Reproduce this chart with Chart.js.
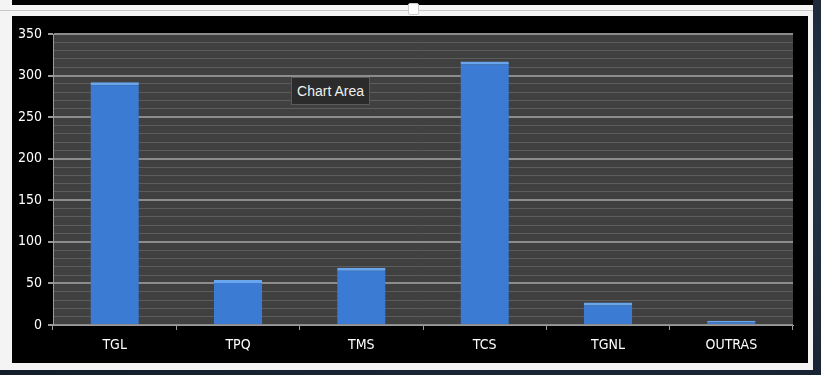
<!DOCTYPE html>
<html>
<head>
<meta charset="utf-8">
<script src="https://cdn.jsdelivr.net/npm/chart.js@4/dist/chart.umd.min.js"></script>
<style>
  html, body { margin: 0; padding: 0; }
  body {
    width: 821px; height: 375px; overflow: hidden; position: relative;
    background: radial-gradient(ellipse at 70% 40%, #2b3d52 0%, #1c2a3a 55%, #131d2a 100%);
  }
  .frame {
    position: absolute; left: 0; top: 0; width: 813px; height: 370px;
    background: #f4f4f4;
  }
  .topStrip { position: absolute; left: 12px; top: 0; width: 801px; height: 5px; background: #000; }
  .topRule { position: absolute; left: 0; top: 10px; width: 813px; height: 1px; background: #c8c8c8; }
  .handle {
    position: absolute; left: 408px; top: 3px; width: 9px; height: 10px;
    background: #fff; border: 1px solid #ccc; border-radius: 2px;
  }
  .chartBox { position: absolute; left: 12px; top: 16px; width: 796px; height: 347px; background: #000; }
  .tip {
    position: absolute; left: 291px; top: 77px; width: 79px; height: 28px;
    background: #2b2b2b; border: 1px solid #5a5a5a; box-sizing: border-box;
    color: #f0f0f0; font: 14px "Liberation Sans", Arial, sans-serif;
    line-height: 26px; text-align: center;
  }
</style>
</head>
<body>
<div class="frame"></div>
<div class="topStrip"></div>
<div class="topRule"></div>
<div class="handle"></div>
<div class="chartBox"><canvas id="chart" width="796" height="347"></canvas></div>
<div class="tip">Chart Area</div>
<script>
const categories = ['TGL', 'TPQ', 'TMS', 'TCS', 'TGNL', 'OUTRAS'];
const values = [292, 54, 69, 317, 27, 5];
const yMax = 350;
const majorStep = 50;
const minorStep = 10;

// fill the plot area grey like the Excel chart
const plotBackground = {
  id: 'plotBackground',
  beforeDraw(chart) {
    const { ctx, chartArea } = chart;
    ctx.save();
    ctx.fillStyle = '#404040';
    ctx.fillRect(chartArea.left, chartArea.top, chartArea.right - chartArea.left, chartArea.bottom - chartArea.top);
    ctx.restore();
  }
};

const barFill = (context) => {
  const el = context.element;
  const chart = context.chart;
  if (!el || !Number.isFinite(el.x) || !Number.isFinite(el.width) || el.width <= 0) return '#3b7bd4';
  const half = el.width / 2;
  const g = chart.ctx.createLinearGradient(el.x - half, 0, el.x + half, 0);
  g.addColorStop(0, '#2d67bd');
  g.addColorStop(0.15, '#3b7dd6');
  g.addColorStop(0.85, '#3f82dc');
  g.addColorStop(1, '#2d67bd');
  return g;
};

const textFont = { family: '"Liberation Sans Narrow", "DejaVu Sans Condensed", sans-serif', size: 14 };

new Chart(document.getElementById('chart'), {
  type: 'bar',
  data: {
    labels: categories,
    datasets: [{
      data: values,
      backgroundColor: barFill,
      borderColor: '#6aa6ee',
      borderWidth: { top: 3, left: 0, right: 0, bottom: 0 },
      borderSkipped: false,
      categoryPercentage: 0.8,
      barPercentage: 0.49,
    }],
  },
  options: {
    responsive: false,
    animation: false,
    layout: { padding: { top: 18, right: 15, left: 0, bottom: 0 } },
    plugins: { legend: { display: false }, tooltip: { enabled: false } },
    scales: {
      x: {
        grid: { drawOnChartArea: false, offset: true, tickColor: '#9a9a9a', tickLength: 5 },
        border: { color: '#9a9a9a' },
        ticks: { color: '#ffffff', font: textFont, padding: 7 },
        afterFit(scale) { scale.height = 38; },
      },
      y: {
        min: 0,
        max: yMax,
        ticks: {
          stepSize: minorStep,
          color: '#ffffff',
          font: textFont,
          padding: 6,
          autoSkip: false,
          callback: (v) => (v % majorStep === 0 ? v : ''),
        },
        grid: {
          color: (c) => (c.tick && c.tick.value % majorStep === 0 ? '#8c8c8c' : '#5c5c5c'),
          lineWidth: (c) => (c.tick && c.tick.value % majorStep === 0 ? 2 : 1),
          tickColor: (c) => (c.tick && c.tick.value % majorStep === 0 ? '#9a9a9a' : 'rgba(0,0,0,0)'),
          tickLength: 5,
        },
        border: { color: '#9a9a9a' },
        afterFit(scale) { scale.width = 41; },
      },
    },
  },
  plugins: [plotBackground],
});
</script>
</body>
</html>
